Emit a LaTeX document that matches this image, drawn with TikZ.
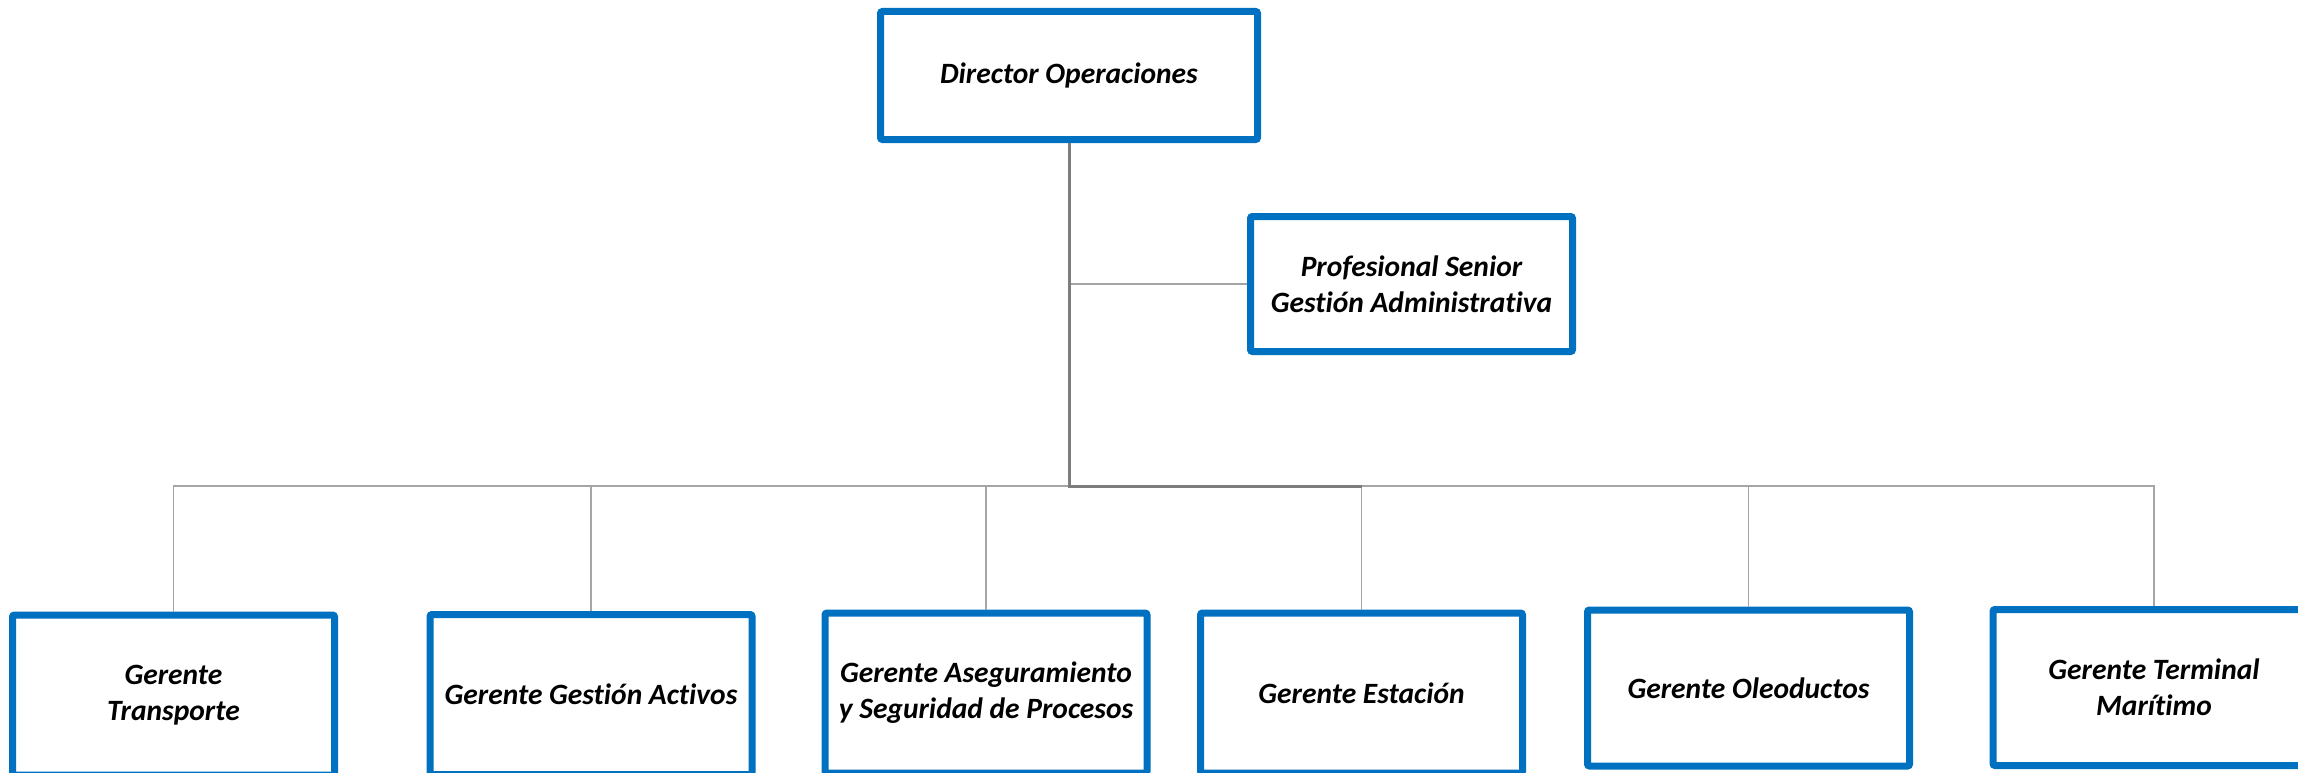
\documentclass[tikz,border=0pt]{standalone}
\usepackage{fontspec}
\setmainfont{Carlito}[Ligatures=NoCommon]
\usetikzlibrary{positioning}

\definecolor{boxblue}{RGB}{0,112,192}
\definecolor{linegray}{RGB}{165,165,165}
\definecolor{trunkgray}{RGB}{125,125,125}

\tikzset{
  post/.style={draw=boxblue, line width=7pt, rounded corners=2pt, fill=white,
    align=center, inner sep=0pt, minimum width=322pt, minimum height=156pt,
    font=\fontsize{29.5}{36}\selectfont\bfseries\itshape},
  link/.style={draw=linegray, line width=1.5pt},
  trunk/.style={draw=trunkgray, line width=3pt},
}

\begin{document}
\begin{tikzpicture}[x=1pt,y=-1pt]
\useasboundingbox (0,0) rectangle (2298,773);

\def\xa{173.5}
\def\xb{591}
\def\xc{986}
\def\xd{1361.5}
\def\xe{1748.5}
\def\xf{2154}

\def\ya{75.5}
\def\yb{284}
\def\yc{486}
\def\yd{693}

\node[post, minimum width=377pt, minimum height=128pt] (dir) at (1069,\ya) {Director Operaciones};
\node[post, minimum height=135pt] (prof) at (1411.5,\yb) {Profesional Senior\\Gestión Administrativa};

\node[post, minimum height=160pt] (trans) at (\xa,\yd+2) {Gerente\\Transporte};
\node[post, minimum height=160pt] (activos) at (\xb,\yd+1.5) {Gerente Gestión Activos};
\node[post, minimum height=160pt] (proc) at (\xc,\yd) {Gerente Aseguramiento\\y Seguridad de Procesos};
\node[post, minimum height=160pt] (est) at (\xd,\yd) {Gerente Estación};
\node[post] (oleo) at (\xe,\yd-5) {Gerente Oleoductos};
\node[post] (term) at (\xf,\yd-5.5) {Gerente Terminal\\Marítimo};

\coordinate (bus) at (1069,\yc);

\draw[link] (dir.south |- prof) -- (prof.west);
\draw[link] (trans.north) |- (bus);
\draw[link] (term.north) |- (bus);
\foreach \g in {activos,proc,est,oleo}
  \draw[link] (\g.north) -- (\g.north |- bus);
\draw[trunk] (dir.south) -- (bus) -- (est.north |- bus);
\end{tikzpicture}
\end{document}
